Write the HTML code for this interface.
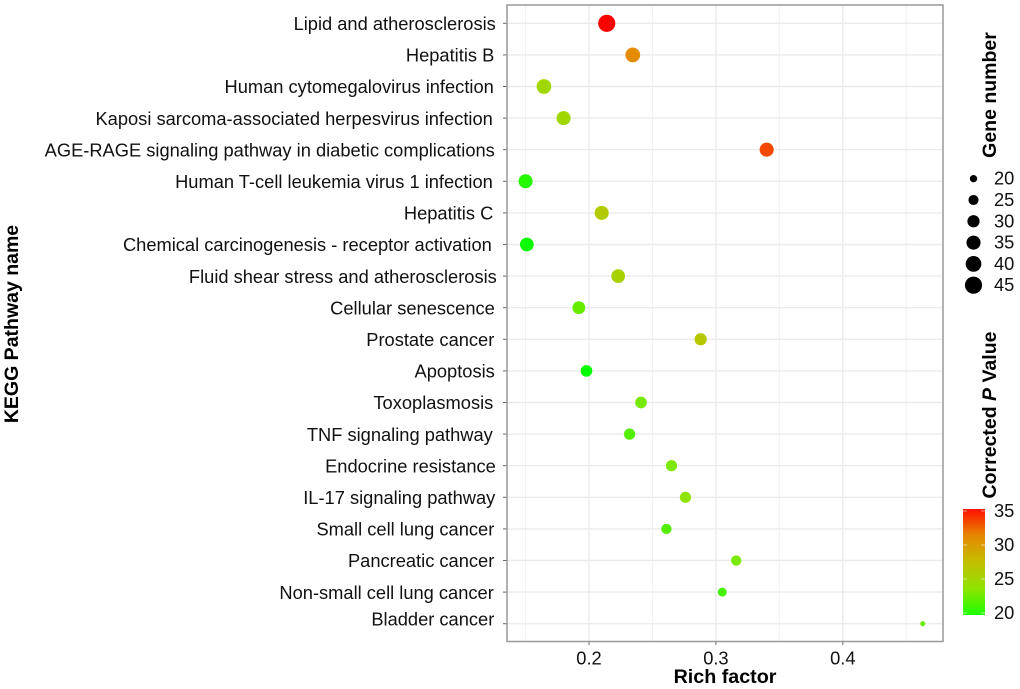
<!DOCTYPE html>
<html>
<head>
<meta charset="utf-8">
<style>
html,body{margin:0;padding:0;background:#fff;width:1020px;height:689px;overflow:hidden}
svg{display:block;font-family:"Liberation Sans",Arial,sans-serif;filter:blur(0.3px)}
text{fill:#111}
.t{font-size:18.3px}
.b{font-weight:bold;fill:#000}
</style>
</head>
<body>
<svg id="chart" width="1020" height="689" viewBox="0 0 1020 689" xmlns="http://www.w3.org/2000/svg">
  <defs>
    <linearGradient id="colorbar-gradient" x1="0" y1="1" x2="0" y2="0">
      <stop offset="0" stop-color="#1cff00"/>
      <stop offset="0.25" stop-color="#8fe400"/>
      <stop offset="0.5" stop-color="#c3be00"/>
      <stop offset="0.75" stop-color="#e68700"/>
      <stop offset="1" stop-color="#ff1000"/>
    </linearGradient>
  </defs>
  <g id="grid"></g>
  <g id="yaxis"></g>
  <g id="xaxis"></g>
  <g id="points"></g>
  <rect x="507" y="5" width="436" height="636.5" fill="none" stroke="#999" stroke-width="1.5"/>
  <text class="b" font-size="19.5" text-anchor="middle" transform="translate(18,324) rotate(-90)">KEGG Pathway name</text>
  <text class="b" font-size="19.7" text-anchor="middle" x="725" y="683">Rich factor</text>
  <text class="b" font-size="19.5" text-anchor="middle" transform="translate(996,95) rotate(-90)">Gene number</text>
  <g id="size-legend"></g>
  <text class="b" font-size="19.5" text-anchor="middle" transform="translate(996,415) rotate(-90)">Corrected <tspan font-style="italic">P</tspan> Value</text>
  <rect x="963" y="509" width="22" height="106" fill="url(#colorbar-gradient)"/>
  <g id="color-legend"></g>
</svg>
<script>
var pathways = ["Lipid and atherosclerosis","Hepatitis B","Human cytomegalovirus infection","Kaposi sarcoma-associated herpesvirus infection","AGE-RAGE signaling pathway in diabetic complications","Human T-cell leukemia virus 1 infection","Hepatitis C","Chemical carcinogenesis - receptor activation","Fluid shear stress and atherosclerosis","Cellular senescence","Prostate cancer","Apoptosis","Toxoplasmosis","TNF signaling pathway","Endocrine resistance","IL-17 signaling pathway","Small cell lung cancer","Pancreatic cancer","Non-small cell lung cancer","Bladder cancer"];
var richFactor = [0.214,0.2345,0.1645,0.18,0.34,0.15,0.21,0.151,0.223,0.192,0.288,0.198,0.241,0.232,0.265,0.276,0.261,0.316,0.305,0.463];
var geneNumber = [45,37,37,35,35,35,35,34,34,31.5,30,28.5,28.5,27.5,27.5,27.5,25.5,25.5,22.7,17];
var correctedP = [35,31,25,25,33,21,26.3,20.3,25.5,22.7,26.5,20.1,23.1,22.2,23.3,23.8,22.2,23.2,21.8,22.7];
var xTicks = [0.2,0.3,0.4];
var xMinorTicks = [0.15,0.25,0.35,0.45];
var sizeLegendValues = [20,25,30,35,40,45];
var colorLegendValues = [20,25,30,35];

var NS = "http://www.w3.org/2000/svg";
function mk(tag, attrs, parent, txt) {
  var el = document.createElementNS(NS, tag);
  for (var k in attrs) el.setAttribute(k, attrs[k]);
  if (txt !== undefined) el.textContent = txt;
  parent.appendChild(el);
  return el;
}
function xScale(v) { return 589 + (v - 0.2) * 1269; }
function yScale(i) { return 23.3 + i * 31.6; }
function rScale(g) { return Math.sqrt(Math.max(1, 13.5 + 2.4 * (g - 20))); }
function legendY(i) { return 178.7 + i * 21.3; }
function colorBarY(v) { return 613 - (v - 20) * 6.8; }

var colorStops = [[0,[0,255,0]],[0.25,[143,228,0]],[0.5,[195,190,0]],[0.75,[230,135,0]],[1,[255,0,0]]];
function cScale(p) {
  var t = Math.min(1, Math.max(0, (p - 20) / 15));
  for (var i = 1; i < colorStops.length; i++) {
    if (t <= colorStops[i][0]) {
      var a = colorStops[i-1], b = colorStops[i], f = (t - a[0]) / (b[0] - a[0]);
      return "rgb(" + [0,1,2].map(function (c) { return Math.round(a[1][c] + (b[1][c] - a[1][c]) * f); }).join(",") + ")";
    }
  }
  return "rgb(255,0,0)";
}

// cosmetic label placement of the hand-assembled original
var labelNudgeX = [1.5,0,-0.5,-1.5,0.5,-1.5,-1,-2.5,2.5,0.5,0,0.5,-1,-1.5,1.5,1,0,0,-0.5,0];
var labelNudgeY = [0,0,0,0,0,0,0,0,0,0,0,0,0,0,0,0,0,0,0,-5];

var grid = document.getElementById("grid");
xMinorTicks.forEach(function (v) {
  var line = mk("line", {x1:xScale(v), x2:xScale(v), y1:5, y2:641, stroke:"#f1f1f1", "stroke-width":1}, grid);
  
  
});
xTicks.forEach(function (v) {
  var line = mk("line", {x1:xScale(v), x2:xScale(v), y1:5, y2:641, stroke:"#ebebeb", "stroke-width":1.4}, grid);
  
  
});
pathways.forEach(function (n, i) {
  var line = mk("line", {x1:507, x2:943, y1:yScale(i), y2:yScale(i), stroke:"#ebebeb", "stroke-width":1.4}, grid);
  
  
});

var yaxis = document.getElementById("yaxis");
pathways.forEach(function (n, i) {
  var tick = mk("line", {x1:503, x2:507, y1:yScale(i), y2:yScale(i), stroke:"#666", "stroke-width":1}, yaxis);
  
  
  var label = mk("text", {"class":"t", "text-anchor":"end", x:494.3 + labelNudgeX[i], y:yScale(i) + 6.7 + labelNudgeY[i]}, yaxis, n);
  
  
});

var xaxis = document.getElementById("xaxis");
xTicks.forEach(function (v) {
  var tick = mk("line", {x1:xScale(v), x2:xScale(v), y1:641.5, y2:645, stroke:"#666", "stroke-width":1}, xaxis);
  
  
  var label = mk("text", {"class":"t", "text-anchor":"middle", x:xScale(v), y:664.5}, xaxis, v.toFixed(1));
  
  
});

var points = document.getElementById("points");
pathways.forEach(function (n, i) {
  var dot = mk("circle", {cx:xScale(richFactor[i]), cy:yScale(i), r:rScale(geneNumber[i]), fill:cScale(correctedP[i])}, points);
  
  
});

var sizeLegend = document.getElementById("size-legend");
sizeLegendValues.forEach(function (v, i) {
  var dot = mk("circle", {cx:973.5, cy:legendY(i), r:rScale(v), fill:"#000"}, sizeLegend);
  
  
  var label = mk("text", {"class":"t", x:994, y:legendY(i) + 6}, sizeLegend, String(v));
  
  
});

var colorLegend = document.getElementById("color-legend");
colorLegendValues.forEach(function (v) {
  var t1 = mk("line", {x1:963, x2:967, y1:colorBarY(v), y2:colorBarY(v), stroke:"#fff", "stroke-width":0.8, opacity:0.7}, colorLegend);
  
  
  var t2 = mk("line", {x1:981, x2:985, y1:colorBarY(v), y2:colorBarY(v), stroke:"#fff", "stroke-width":0.8, opacity:0.7}, colorLegend);
  
  
  var label = mk("text", {"class":"t", x:994, y:colorBarY(v) + 6}, colorLegend, String(v));
  
  
});
</script>
</body>
</html>
